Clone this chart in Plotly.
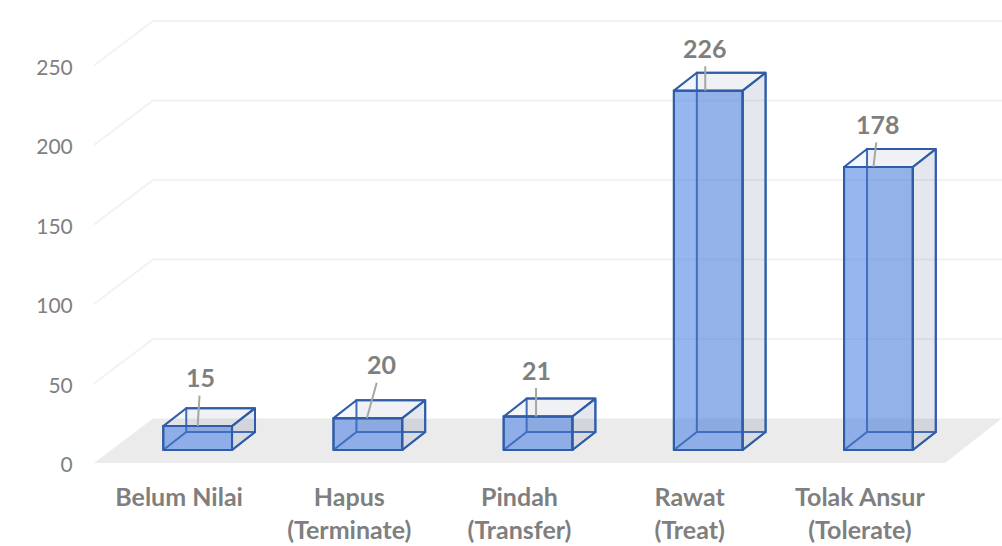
import plotly.graph_objects as go

categories = ["Belum Nilai", "Hapus<br>(Terminate)", "Pindah<br>(Transfer)", "Rawat<br>(Treat)", "Tolak Ansur<br>(Tolerate)"]
values = [15, 20, 21, 226, 178]
y_ticks = [0, 50, 100, 150, 200, 250]

# pixel offsets of the data labels and their leader lines from each bar top
label_ax = [3, 15, 0, 0, 5]
label_ay = [-49, -54, -47, -43, -43]
label_shift = [0, -1, -2, -3, -5]

GREY = "#7f7f7f"
EDGE = "#2f5ca6"

# fake 3d depth, in axis units
wall_dx, wall_dy = 0.347, 28.0
bar_dx, bar_dy = 0.135, 11.3
inset_dx, inset_dy = 0.109, 8.2
bar_w = 0.404

x_min, x_max = -0.5, 4.835
y_max = 291.2

positions = list(range(len(categories)))

fig = go.Figure()

# floor and side wall gridlines sit under the traces
floor_x = [x_min, x_min + wall_dx, x_max, 4.5]
floor_y = [0, wall_dy, wall_dy, 0]
floor_path = "M" + " L".join(f"{a} {b}" for a, b in zip(floor_x, floor_y)) + " Z"
fig.add_shape(type="path", path=floor_path, xref="x", yref="y", layer="below",
              fillcolor="#ebebeb", line_width=0)
for v in y_ticks[1:]:
    grid = f"M{x_min} {v} L{x_min + wall_dx} {v + wall_dy} L{x_max} {v + wall_dy}"
    fig.add_shape(type="path", path=grid, xref="x", yref="y", layer="below",
                  line=dict(color="#f2f2f2", width=2))

# front faces
bar_x = [p + inset_dx for p in positions]
fig.add_trace(go.Bar(
    x=bar_x, y=values, base=inset_dy, width=bar_w,
    marker=dict(color="rgba(82,132,226,0.6)", line=dict(color=EDGE, width=2)),
    showlegend=False, hoverinfo="skip",
))


def add_face(xs, ys, fill, color=EDGE, width=2):
    fig.add_trace(go.Scatter(
        x=xs, y=ys, mode="lines", fill="toself", fillcolor=fill,
        line=dict(color=color, width=width), showlegend=False, hoverinfo="skip",
    ))


for cx, v in zip(bar_x, values):
    x0, x1 = cx - bar_w / 2, cx + bar_w / 2
    y0, y1 = inset_dy, inset_dy + v
    # back, bottom, side, top
    add_face([x0 + bar_dx, x1 + bar_dx, x1 + bar_dx, x0 + bar_dx, x0 + bar_dx],
             [y0 + bar_dy, y0 + bar_dy, y1 + bar_dy, y1 + bar_dy, y0 + bar_dy],
             "rgba(68,84,130,0.03)", "#3f6fbf")
    add_face([x0, x1, x1 + bar_dx, x0 + bar_dx, x0],
             [y0, y0, y0 + bar_dy, y0 + bar_dy, y0],
             "rgba(255,255,255,0.0)", "#3f6fbf")
    add_face([x1, x1 + bar_dx, x1 + bar_dx, x1, x1],
             [y0, y0 + bar_dy, y1 + bar_dy, y1, y0],
             "rgba(68,84,130,0.11)")
    add_face([x0, x1, x1 + bar_dx, x0 + bar_dx, x0],
             [y1, y1, y1 + bar_dy, y1 + bar_dy, y1],
             "rgba(68,84,130,0.05)")
    # redraw the front outline over the depth faces
    fig.add_trace(go.Scatter(
        x=[x0, x1, x1, x0, x0], y=[y0, y0, y1, y1, y0], mode="lines",
        line=dict(color=EDGE, width=2), showlegend=False, hoverinfo="skip",
    ))

for cx, v, ax, ay, shift in zip(bar_x, values, label_ax, label_ay, label_shift):
    fig.add_annotation(
        x=cx, y=inset_dy + v, text=str(v), ax=ax, ay=ay, axref="pixel", ayref="pixel",
        xshift=shift, showarrow=True, arrowhead=0, arrowwidth=2, arrowcolor="#a6a6a6",
        borderpad=3, font=dict(family="Lato", size=25, color=GREY, weight=700),
    )

fig.update_layout(
    width=1002, height=546,
    margin=dict(l=94, r=0, t=0, b=83),
    paper_bgcolor="white", plot_bgcolor="white",
    font=dict(family="Lato", color=GREY),
    showlegend=False,
)
fig.update_xaxes(
    range=[x_min, x_max], tickvals=positions, ticktext=categories,
    showgrid=False, zeroline=False, showline=False,
    ticks="outside", ticklen=12, tickcolor="rgba(0,0,0,0)",
    tickangle=0, tickfont=dict(family="Lato", size=25, color=GREY, weight=700),
)
fig.update_yaxes(
    range=[0, y_max], tickvals=y_ticks, ticklabelshift=2,
    showgrid=False, zeroline=False, showline=False,
    ticks="outside", ticklen=16, tickcolor="rgba(0,0,0,0)",
    tickfont=dict(family="Lato", size=21, color=GREY),
)

# drop the page's default body margin so the figure fills the window
fig.write_html("out.html", config={"displayModeBar": False},
               post_script="document.body.style.margin = '0';")
